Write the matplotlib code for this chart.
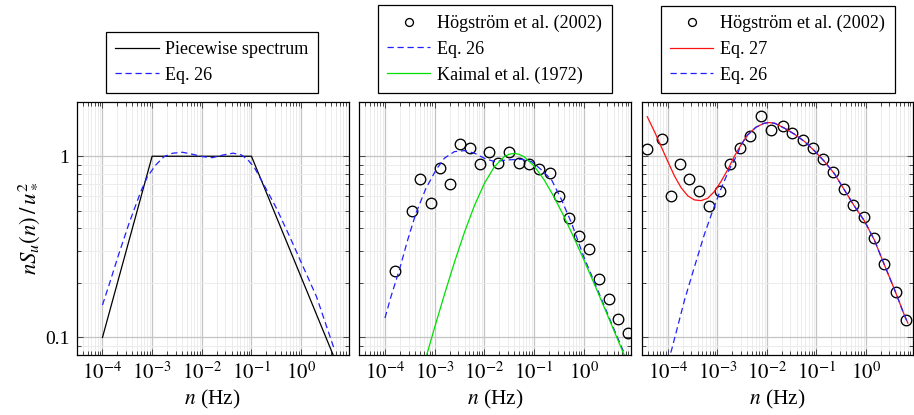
import matplotlib
matplotlib.use("Agg")
import matplotlib.pyplot as plt
from matplotlib.ticker import FixedLocator, FixedFormatter, LogLocator, NullFormatter

plt.rcParams["font.family"] = ["Liberation Serif", "DejaVu Serif"]
plt.rcParams["mathtext.fontset"] = "stix"
plt.rcParams["font.size"] = 11

# ---------------- data ----------------
# piecewise model spectrum
pw_n = [1e-4, 1e-3, 1e-1, 10.0]
pw_s = [0.1, 1.0, 1.0, 0.0464]

# Eq. 26, left panel
eq26a_n = [1.0e-4, 1.358e-4, 2.163e-4, 3.436e-4, 5.902e-4, 8.05e-4, 1.183e-3, 1.738e-3,
           2.57e-3, 4.07e-3, 6.46e-3, 1.03e-2, 1.64e-2, 2.68e-2, 4.27e-2, 6.31e-2,
           8.51e-2, 0.1164, 0.171, 0.318, 0.590, 1.096, 2.04, 4.75]
eq26a_s = [0.151, 0.195, 0.292, 0.427, 0.638, 0.772, 0.895, 0.995,
           1.039, 1.052, 1.026, 0.995, 0.982, 1.016, 1.04, 1.016,
           0.955, 0.859, 0.71, 0.517, 0.36, 0.246, 0.168, 0.0847]

# Högström et al. (2002), middle panel
hog1_n = [1.59e-4, 3.45e-4, 5.07e-4, 8.32e-4, 1.28e-3, 2.00e-3, 3.19e-3, 5.07e-3,
          8.05e-3, 1.26e-2, 1.92e-2, 3.19e-2, 5.07e-2, 8.07e-2, 0.126, 0.210,
          0.318, 0.499, 0.805, 1.28, 2.04, 3.24, 4.91, 7.94]
hog1_s = [0.233, 0.501, 0.746, 0.551, 0.859, 0.703, 1.164, 1.115,
          0.907, 1.056, 0.915, 1.06, 0.915, 0.903, 0.851, 0.812,
          0.604, 0.459, 0.362, 0.307, 0.210, 0.163, 0.127, 0.106]

# Eq. 26, middle panel
eq26b_n = [1e-4, 1.321e-4, 1.95e-4, 2.864e-4, 4.207e-4, 6.70e-4, 1.064e-3, 1.570e-3,
           2.495e-3, 3.972e-3, 6.31e-3, 1.0e-2, 1.596e-2, 2.818e-2, 5.65e-2, 8.97e-2,
           0.1426, 0.227, 0.3606, 0.573, 1.0, 1.585, 2.512, 3.981, 6.31, 10.0]
eq26b_s = [0.128, 0.168, 0.236, 0.345, 0.485, 0.666, 0.840, 0.975,
           1.06, 1.074, 1.04, 0.975, 0.934, 0.954, 0.962, 0.934,
           0.84, 0.74, 0.574, 0.427, 0.28, 0.207, 0.153, 0.113, 0.084, 0.062]

# Kaimal et al. (1972)
kai_n = [6.31e-4, 1.0e-3, 1.585e-3, 2.512e-3, 3.981e-3, 6.31e-3, 0.01, 0.01585,
         0.02512, 0.03162, 0.03981, 0.05012, 0.0631, 0.1, 0.1585, 0.2512,
         0.3981, 0.631, 1.0, 1.585, 2.512, 3.981, 6.31, 10.0]
kai_s = [0.0733, 0.1135, 0.1736, 0.2606, 0.3802, 0.5327, 0.7064, 0.8730,
         0.9938, 1.0260, 1.0364, 1.0250, 0.9938, 0.8857, 0.7445, 0.5993,
         0.4679, 0.3577, 0.2699, 0.2017, 0.1499, 0.1109, 0.0820, 0.0605]

# Högström et al. (2002), right panel
hog2_n = [3.83e-5, 7.57e-5, 1.164e-4, 1.77e-4, 2.72e-4, 4.21e-4, 6.89e-4, 1.13e-3,
          1.82e-3, 2.86e-3, 4.60e-3, 7.57e-3, 1.24e-2, 2.09e-2, 3.23e-2, 5.30e-2,
          8.55e-2, 0.136, 0.220, 0.355, 0.564, 0.908, 1.47, 2.37, 4.00, 6.49]
hog2_s = [1.094, 1.245, 0.607, 0.907, 0.75, 0.646, 0.532, 0.644,
          0.903, 1.115, 1.294, 1.675, 1.39, 1.469, 1.349, 1.23,
          1.107, 0.966, 0.816, 0.662, 0.537, 0.461, 0.353, 0.255, 0.179, 0.125]

# Eq. 27
eq27_n = [3.83e-5, 5.37e-5, 7.33e-5, 1.0e-4, 1.36e-4, 1.85e-4, 2.53e-4, 3.44e-4,
          4.69e-4, 6.38e-4, 8.67e-4, 1.18e-3, 1.61e-3, 2.19e-3, 2.99e-3, 4.08e-3,
          6.00e-3, 8.81e-3, 1.12e-2, 1.45e-2, 2.30e-2, 3.66e-2, 5.82e-2, 9.25e-2,
          0.147, 0.233, 0.372, 0.590, 0.938, 1.49, 2.37, 3.77, 6.00, 7.08]
eq27_s = [1.653, 1.367, 1.13, 0.934, 0.778, 0.671, 0.604, 0.574,
          0.569, 0.586, 0.638, 0.724, 0.84, 0.995, 1.154, 1.31,
          1.445, 1.52, 1.535, 1.52, 1.426, 1.321, 1.204, 1.069,
          0.934, 0.80, 0.65, 0.53, 0.44, 0.345, 0.252, 0.185, 0.133, 0.12]

# Eq. 26, right panel
eq26c_n = [1.0e-4, 1.20e-4, 2.16e-4, 3.44e-4, 5.46e-4, 8.05e-4, 1.18e-3, 1.74e-3,
           2.56e-3, 2.99e-3, 4.08e-3, 6.00e-3, 8.81e-3, 1.12e-2, 1.45e-2, 2.30e-2,
           3.66e-2, 5.82e-2, 9.25e-2, 0.147, 0.233, 0.372, 0.590, 0.938, 1.49,
           2.37, 3.77, 6.00, 7.08]
eq26c_s = [0.073, 0.0862, 0.16, 0.245, 0.37, 0.50, 0.66, 0.845,
           1.03, 1.154, 1.31, 1.445, 1.52, 1.535, 1.52, 1.426,
           1.321, 1.204, 1.069, 0.934, 0.80, 0.65, 0.53, 0.44, 0.345,
           0.252, 0.185, 0.133, 0.12]

xtick_vals = [1e-4, 1e-3, 1e-2, 1e-1, 1.0]
xtick_text = [r"$10^{-4}$", r"$10^{-3}$", r"$10^{-2}$", r"$10^{-1}$", r"$10^{0}$"]
ytick_vals = [0.1, 1.0]
ytick_text = ["0.1", "1"]

# ---------------- figure ----------------
W, H = 914, 415
fig = plt.figure(figsize=(W / 100, H / 100), dpi=100)


def px_axes(x0, x1, y0, y1):
    return fig.add_axes([x0 / W, 1 - y1 / H, (x1 - x0) / W, (y1 - y0) / H])


ax1 = px_axes(76.5, 348.5, 101.7, 355)
ax2 = px_axes(359, 631, 101.7, 355)
ax3 = px_axes(642, 913, 101.7, 355)

dash = (0, (5.0, 3.0))
mk = dict(ls="none", marker="o", ms=7.6, mfc="none", mec="black", mew=0.95)

for ax in (ax1, ax2, ax3):
    ax.set_xscale("log")
    ax.set_yscale("log")
    ax.set_xlim(3.0e-5, 9.0)
    ax.set_ylim(0.08, 2.0)
    ax.xaxis.set_major_locator(FixedLocator(xtick_vals))
    ax.xaxis.set_major_formatter(FixedFormatter(xtick_text))
    ax.xaxis.set_minor_locator(LogLocator(base=10, subs=range(2, 10), numticks=50))
    ax.xaxis.set_minor_formatter(NullFormatter())
    ax.yaxis.set_major_locator(FixedLocator(ytick_vals))
    ax.yaxis.set_minor_locator(LogLocator(base=10, subs=range(2, 10), numticks=50))
    ax.yaxis.set_minor_formatter(NullFormatter())
    ax.tick_params(which="both", direction="in", top=True, right=True,
                   color="#444444", width=0.7)
    ax.tick_params(which="major", length=4.6, pad=5)
    ax.tick_params(axis="x", which="major", labelsize=15)
    ax.tick_params(axis="y", which="major", labelsize=14)
    ax.tick_params(which="minor", length=2.8)
    ax.grid(True, which="major", color="#c4c4c4", lw=0.9)
    ax.grid(True, which="minor", color="#ececec", lw=0.7)
    ax.set_axisbelow(True)
    for sp in ax.spines.values():
        sp.set_linewidth(0.9)
    ax.set_xlabel(r"$n$ (Hz)", fontsize=15.5, labelpad=3)

ax1.yaxis.set_major_formatter(FixedFormatter(ytick_text))
ax1.set_ylabel(r"$nS_u(n)\,/\,u_*^2$", fontsize=16.5, labelpad=3)
for ax in (ax2, ax3):
    ax.yaxis.set_major_formatter(NullFormatter())

# left panel
ax1.plot(pw_n, pw_s, color="black", lw=0.9, label="Piecewise spectrum")
ax1.plot(eq26a_n, eq26a_s, color="#2020ff", lw=0.9, ls=dash, label="Eq. 26")

# middle panel
ax2.plot(hog1_n, hog1_s, label="Högström et al. (2002)", **mk)
ax2.plot(eq26b_n, eq26b_s, color="#2020ff", lw=0.9, ls=dash, label="Eq. 26")
ax2.plot(kai_n, kai_s, color="#00e000", lw=0.9, label="Kaimal et al. (1972)")

# right panel
ax3.plot(hog2_n, hog2_s, label="Högström et al. (2002)", **mk)
ax3.plot(eq27_n, eq27_s, color="#ff1010", lw=0.9, label="Eq. 27")
ax3.plot(eq26c_n, eq26c_s, color="#2020ff", lw=0.9, ls=dash, label="Eq. 26")

leg_kw = dict(loc="lower left", bbox_transform=fig.transFigure, borderaxespad=0,
              fancybox=False, framealpha=1, edgecolor="black", fontsize=13.1,
              handlelength=2.38, handletextpad=0.37, borderpad=0.52,
              labelspacing=0.48, markerscale=0.75)
for ax, x0 in ((ax1, 106), (ax2, 377.7), (ax3, 660.7)):
    lg = ax.legend(bbox_to_anchor=(x0 / W, 1 - 93.3 / H), **leg_kw)
    lg.get_frame().set_linewidth(0.9)

fig.savefig("out.png", dpi=100)
